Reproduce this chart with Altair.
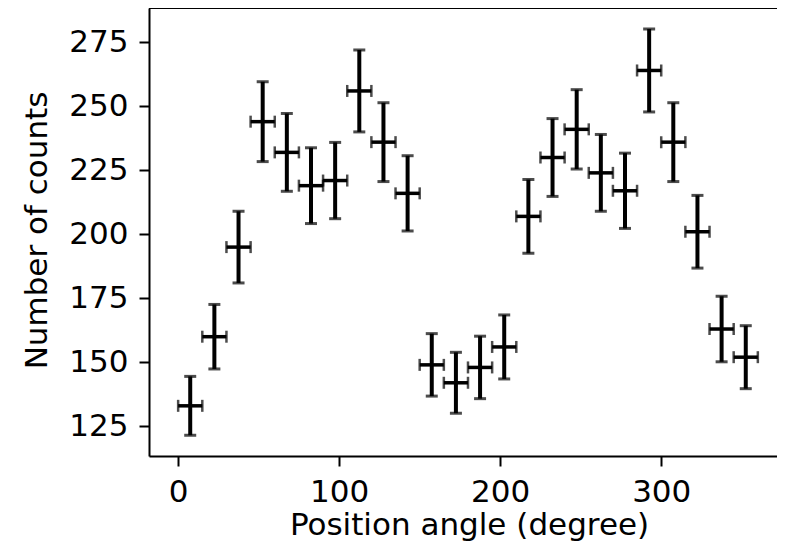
import altair as alt
import pandas as pd

# Data
angles = [7.5, 22.5, 37.5, 52.5, 67.5, 82.5, 97.5, 112.5, 127.5, 142.5, 157.5, 172.5,
          187.5, 202.5, 217.5, 232.5, 247.5, 262.5, 277.5, 292.5, 307.5, 322.5, 337.5, 352.5]
counts = [133, 160, 195, 244, 232, 219, 221, 256, 236, 216, 149, 142,
          148, 156, 207, 230, 241, 224, 217, 264, 236, 201, 163, 152]
count_err = [11.5, 12.6, 14.0, 15.6, 15.2, 14.8, 14.9, 16.0, 15.4, 14.7, 12.2, 11.9,
             12.2, 12.5, 14.4, 15.2, 15.5, 15.0, 14.7, 16.2, 15.4, 14.2, 12.8, 12.3]
angle_halfwidth = [7.5] * 24
y_ticks = [125, 150, 175, 200, 225, 250, 275]
x_ticks = [0, 100, 200, 300]

df = pd.DataFrame({
    "angle": angles,
    "count": counts,
    "lo": [c - e for c, e in zip(counts, count_err)],
    "hi": [c + e for c, e in zip(counts, count_err)],
    "xlo": [a - h for a, h in zip(angles, angle_halfwidth)],
    "xhi": [a + h for a, h in zip(angles, angle_halfwidth)],
})

FONT = "DejaVu Sans"
FS = 31
W, H = 628, 448

xscale = alt.Scale(domain=[-18.1, 371.9], nice=False, zero=False)
yscale = alt.Scale(domain=[113.4, 288.4], nice=False, zero=False)

xaxis = alt.Axis(
    title="Position angle (degree)", values=x_ticks, grid=False,
    tickSize=10, tickWidth=2, domainWidth=2, domainColor="black", tickColor="black",
    labelFont=FONT, labelFontSize=FS, labelColor="black", labelPadding=11,
    titleFont=FONT, titleFontSize=FS, titleFontWeight="normal", titleColor="black",
    titleX=320, titleY=78, titleBaseline="alphabetic", titleAnchor="middle",
    labelFlush=False,
)
yaxis = alt.Axis(
    title="Number of counts", values=y_ticks, grid=False,
    tickSize=10, tickWidth=2, domainWidth=2, domainColor="black", tickColor="black",
    labelFont=FONT, labelFontSize=FS, labelColor="black", labelPadding=11,
    titleFont=FONT, titleFontSize=FS, titleFontWeight="normal", titleColor="black",
    titleAngle=270, titleBaseline="middle", titleX=-112, titleY=222,
    labelFlush=False,
)

base = alt.Chart(df)

vbar = base.mark_rule(color="black", strokeWidth=4).encode(
    x=alt.X("angle:Q", scale=xscale, axis=xaxis),
    y=alt.Y("lo:Q", scale=yscale, axis=yaxis),
    y2="hi:Q",
)
hbar = base.mark_rule(color="black", strokeWidth=3.5).encode(
    x=alt.X("xlo:Q", scale=xscale),
    x2="xhi:Q",
    y=alt.Y("count:Q", scale=yscale),
)
cap_lo = base.mark_tick(color="black", orient="horizontal", size=12, thickness=3).encode(
    x=alt.X("angle:Q", scale=xscale), y=alt.Y("lo:Q", scale=yscale))
cap_hi = base.mark_tick(color="black", orient="horizontal", size=12, thickness=3).encode(
    x=alt.X("angle:Q", scale=xscale), y=alt.Y("hi:Q", scale=yscale))
cap_l = base.mark_tick(color="black", orient="vertical", size=12, thickness=2.5).encode(
    x=alt.X("xlo:Q", scale=xscale), y=alt.Y("count:Q", scale=yscale))
cap_r = base.mark_tick(color="black", orient="vertical", size=12, thickness=2.5).encode(
    x=alt.X("xhi:Q", scale=xscale), y=alt.Y("count:Q", scale=yscale))

top_spine = alt.Chart(pd.DataFrame({"k": [0]})).mark_rule(color="black", strokeWidth=2).encode(
    y=alt.value(0))

chart = alt.layer(vbar, hbar, cap_lo, cap_hi, cap_l, cap_r, top_spine).properties(
    width=W, height=H,
    autosize=alt.AutoSizeParams(type="none"),
    padding={"left": 141, "top": 0, "right": 0, "bottom": 85},
).configure_view(stroke=None).configure(background="white")

chart.save("out.html", embed_options={"renderer": "svg", "actions": False})
